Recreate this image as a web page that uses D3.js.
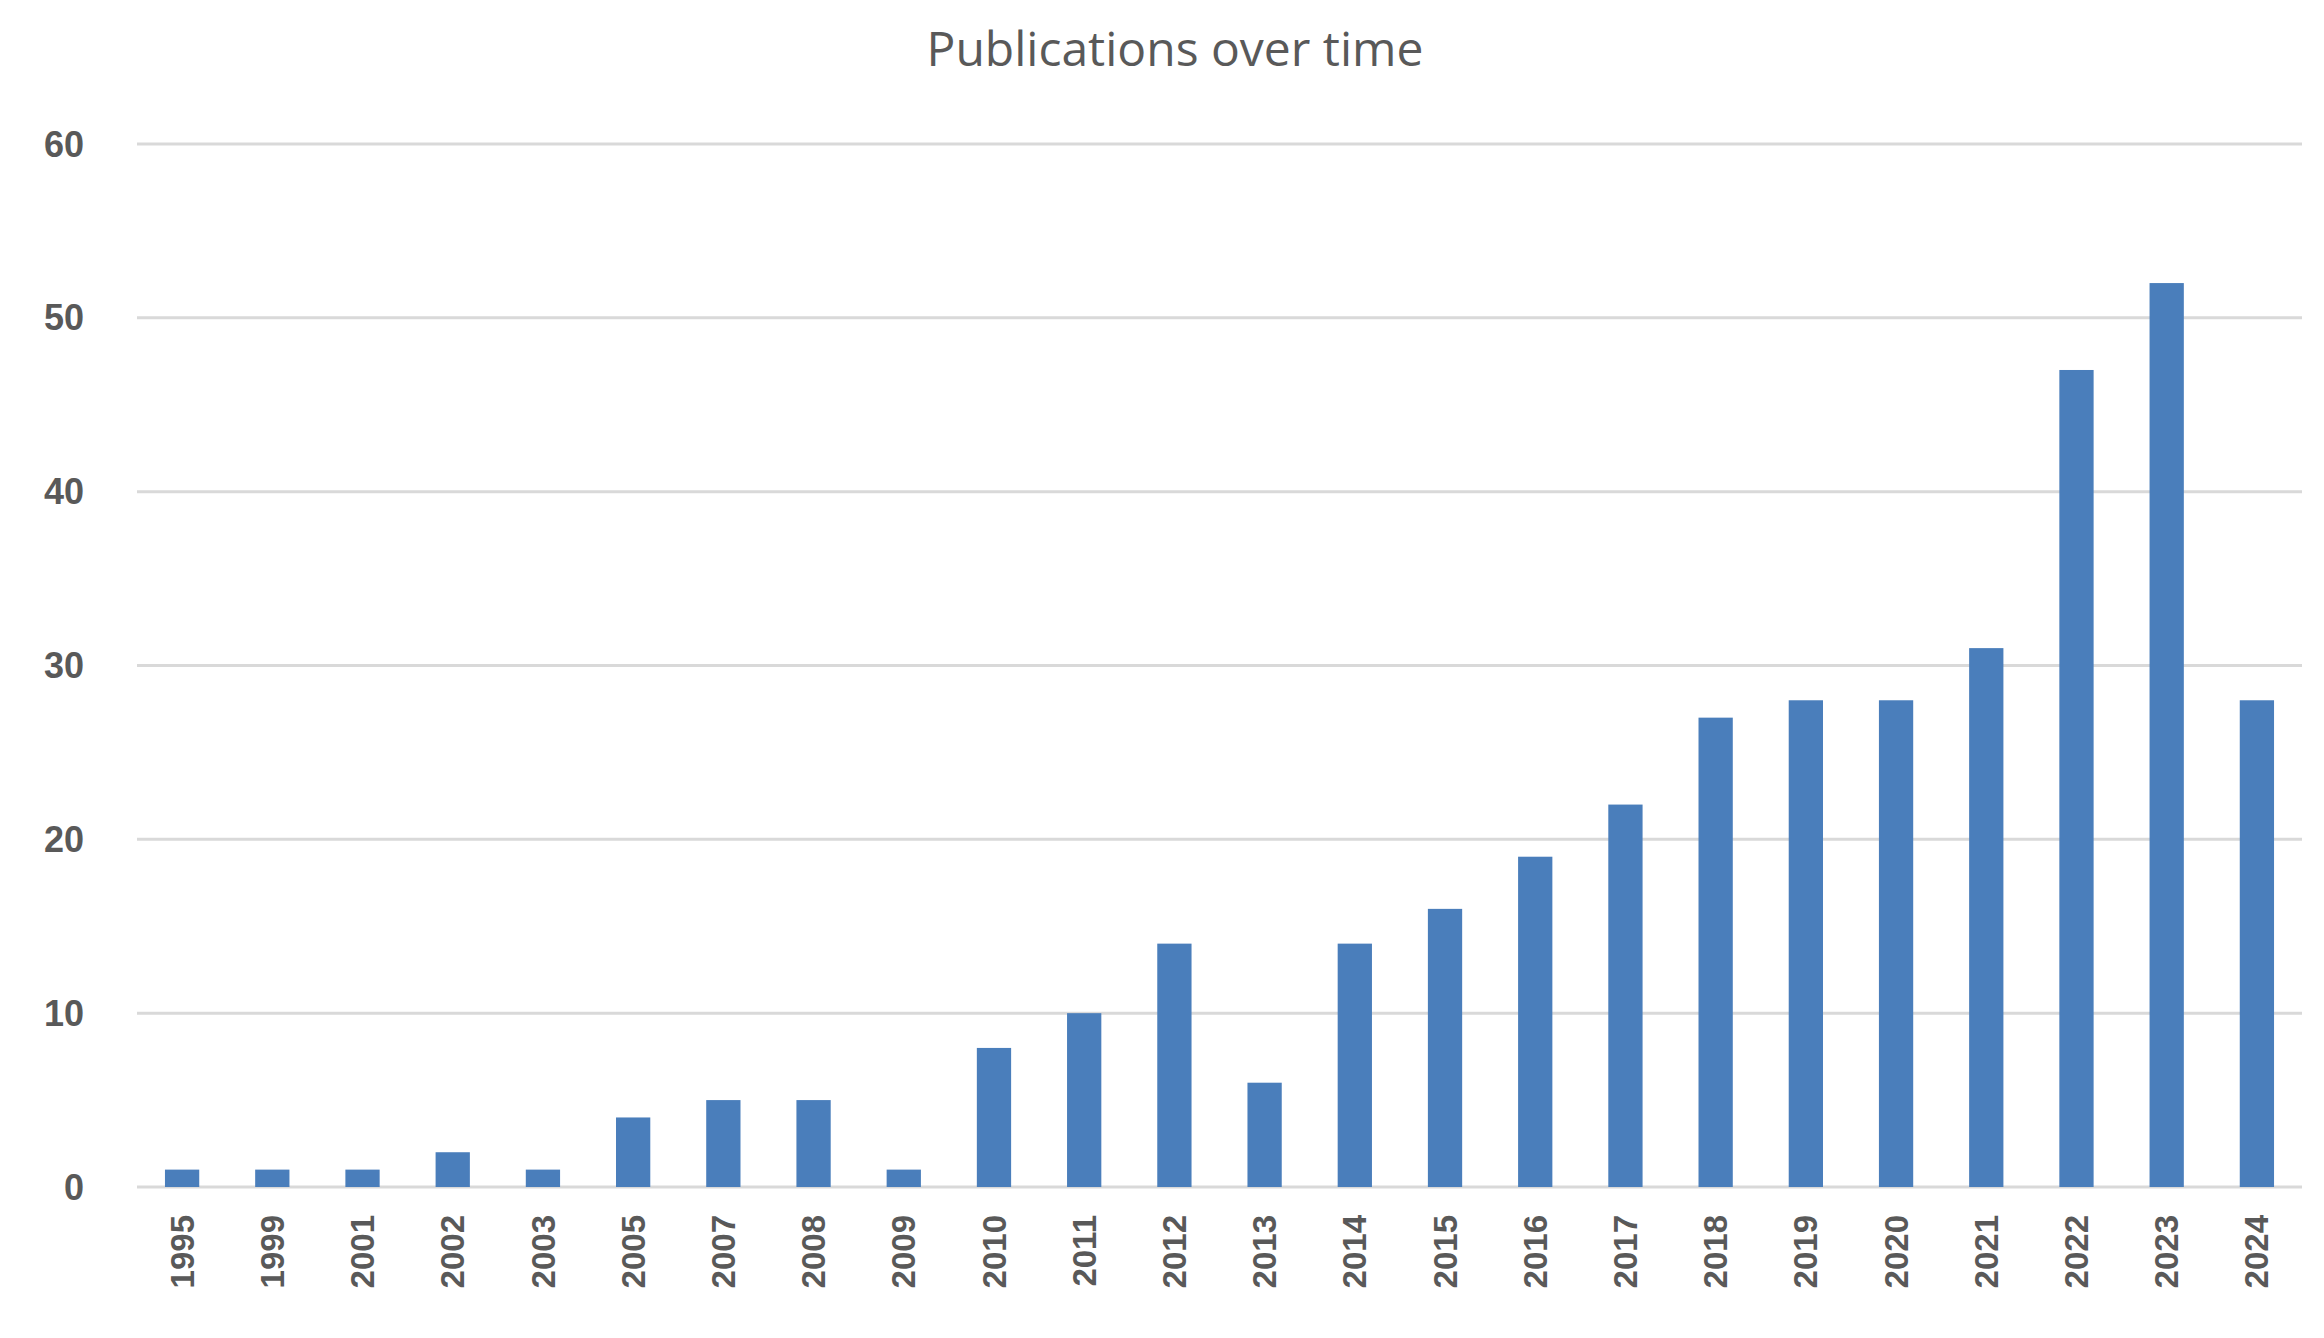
<!DOCTYPE html>
<html>
<head>
<meta charset="utf-8">
<script src="https://cdn.jsdelivr.net/npm/d3@7"></script>
<style>
  body { margin: 0; background: #fff; }
  svg { display: block; }
</style>
</head>
<body>
<svg id="chart" width="2324" height="1338"></svg>
<script>
// Chart data
const years = ['1995', '1999', '2001', '2002', '2003', '2005', '2007', '2008', '2009', '2010',
  '2011', '2012', '2013', '2014', '2015', '2016', '2017', '2018', '2019', '2020',
  '2021', '2022', '2023', '2024'];
const counts = [1, 1, 1, 2, 1, 4, 5, 5, 1, 8, 10, 14, 6, 14, 16, 19, 22, 27, 28, 28, 31, 47, 52, 28];
const yTicks = [0, 10, 20, 30, 40, 50, 60];

const margin = { top: 144, right: 22, bottom: 151, left: 137 };
const width = 2324, height = 1338;

const svg = d3.select('#chart');

const x = d3.scaleBand()
  .domain(years)
  .range([margin.left, width - margin.right])
  .paddingInner(0.62)
  .paddingOuter(0.31);

const y = d3.scaleLinear()
  .domain([0, 60])
  .range([height - margin.bottom, margin.top]);

// gridlines
svg.append('g')
  .selectAll('line')
  .data(yTicks)
  .enter().append('line')
    .attr('x1', margin.left)
    .attr('x2', width - margin.right)
    .attr('y1', d => y(d))
    .attr('y2', d => y(d))
    .attr('stroke', '#d9d9d9')
    .attr('stroke-width', 3);

// y labels
svg.append('g')
  .selectAll('text')
  .data(yTicks)
  .enter().append('text')
    .attr('x', 84)
    .attr('y', d => y(d))
    .attr('dy', '0.35em')
    .attr('text-anchor', 'end')
    .attr('font-family', 'Liberation Sans, Arial, sans-serif')
    .attr('font-weight', 'bold')
    .attr('font-size', 36)
    .attr('fill', '#595959')
    .text(d => d);

// bars
svg.append('g')
  .selectAll('rect')
  .data(counts)
  .enter().append('rect')
    .attr('x', (d, i) => x(years[i]))
    .attr('y', d => y(d))
    .attr('width', x.bandwidth())
    .attr('height', d => y(0) - y(d))
    .attr('fill', '#4a7ebb');

// x labels
svg.append('g')
  .selectAll('text')
  .data(years)
  .enter().append('text')
    .attr('transform', d => `translate(${x(d) + x.bandwidth() / 2},${y(0) + 28}) rotate(-90)`)
    .attr('dy', '0.35em')
    .attr('text-anchor', 'end')
    .attr('font-family', 'Liberation Sans, Arial, sans-serif')
    .attr('font-weight', 'bold')
    .attr('font-size', 33)
    .attr('fill', '#595959')
    .text(d => d);

// title
svg.append('text')
  .attr('x', 1175)
  .attr('y', 66)
  .attr('text-anchor', 'middle')
  .attr('font-family', 'Open Sans, sans-serif')
  .attr('font-size', 48)
  .attr('fill', '#595959')
  .text('Publications over time');
</script>
</body>
</html>
